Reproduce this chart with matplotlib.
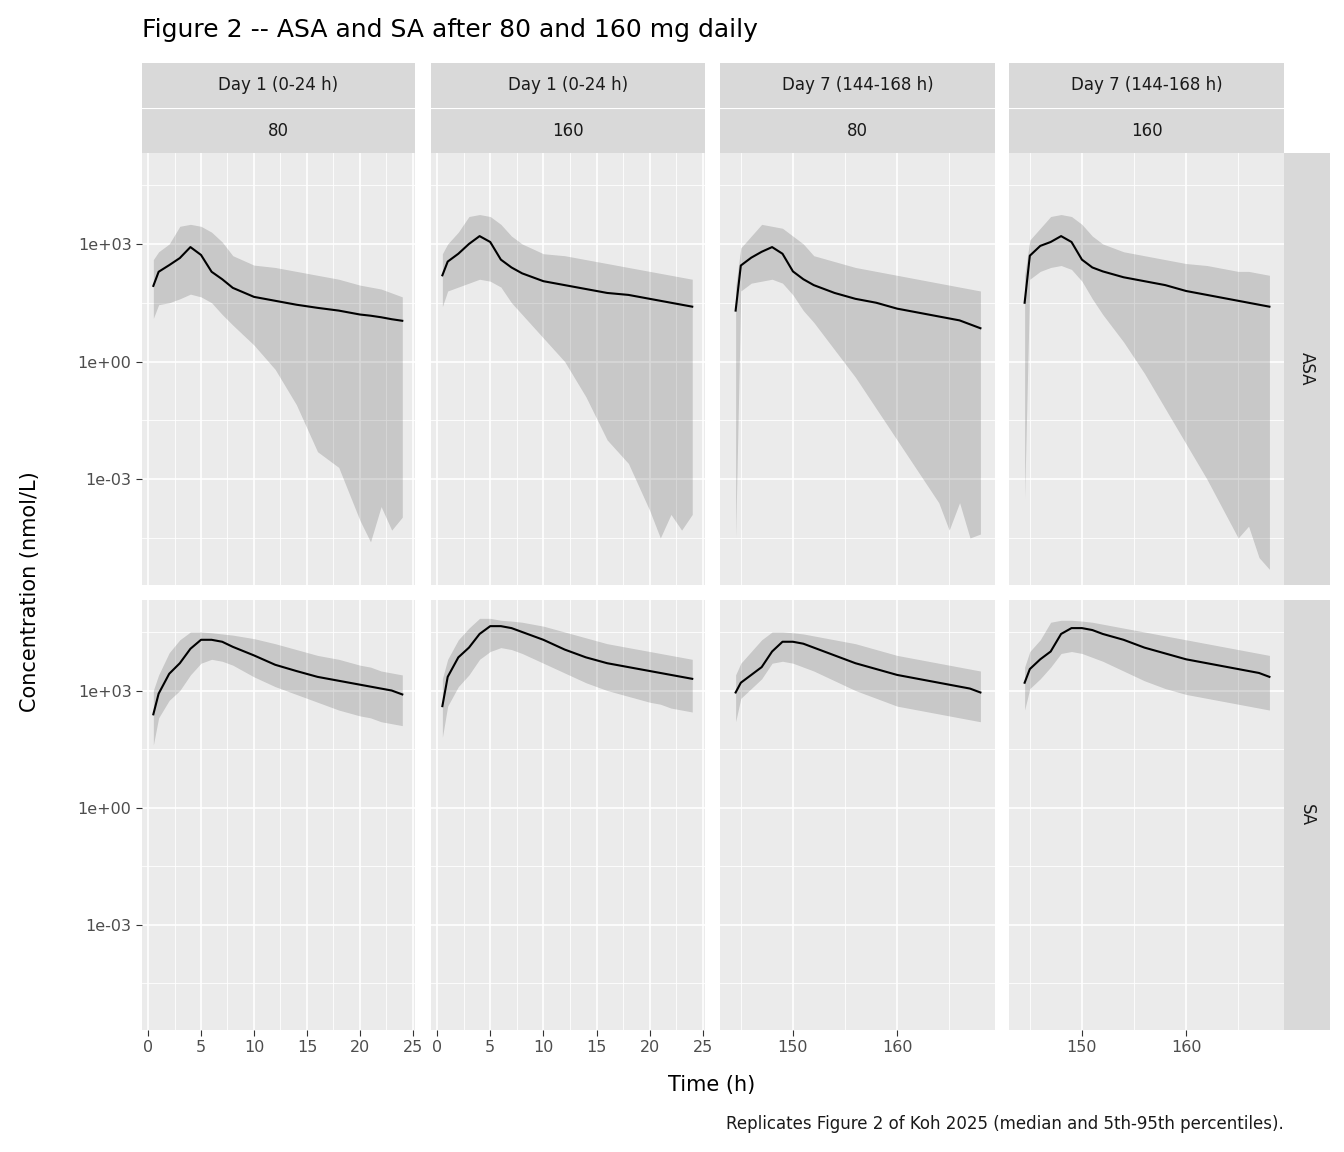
import numpy as np
import matplotlib
matplotlib.use("Agg")
import matplotlib.pyplot as plt
from matplotlib.ticker import FixedLocator, NullFormatter

# time grid (hours within the dosing day)
hours = [0.5, 1, 2, 3, 4, 5, 6, 7, 8, 10, 12, 14, 16, 18, 20, 21, 22, 23, 24]

days = ["Day 1 (0-24 h)", "Day 1 (0-24 h)", "Day 7 (144-168 h)", "Day 7 (144-168 h)"]
doses = ["80", "160", "80", "160"]
offsets = [0, 0, 144, 144]
analytes = ["ASA", "SA"]

# log10 concentration (nmol/L): median, 95th, 5th percentile
asa_med = [
    [1.93, 2.29, 2.46, 2.64, 2.92, 2.72, 2.29, 2.1, 1.88, 1.65, 1.55, 1.45, 1.37, 1.3, 1.2, 1.17, 1.13, 1.08, 1.04],
    [2.2, 2.55, 2.75, 3.0, 3.2, 3.05, 2.6, 2.4, 2.25, 2.05, 1.95, 1.85, 1.75, 1.7, 1.6, 1.55, 1.5, 1.45, 1.4],
    [1.3, 2.45, 2.65, 2.8, 2.92, 2.75, 2.3, 2.1, 1.95, 1.75, 1.6, 1.5, 1.35, 1.25, 1.15, 1.1, 1.05, 0.95, 0.85],
    [1.5, 2.7, 2.95, 3.05, 3.2, 3.05, 2.6, 2.4, 2.3, 2.15, 2.05, 1.95, 1.8, 1.7, 1.6, 1.55, 1.5, 1.45, 1.4],
]
asa_hi = [
    [2.6, 2.8, 3.0, 3.45, 3.5, 3.45, 3.3, 3.05, 2.7, 2.46, 2.4, 2.3, 2.2, 2.1, 1.95, 1.9, 1.85, 1.75, 1.65],
    [2.75, 3.0, 3.3, 3.7, 3.75, 3.7, 3.5, 3.2, 3.0, 2.75, 2.7, 2.6, 2.5, 2.4, 2.3, 2.25, 2.2, 2.15, 2.1],
    [1.9, 2.9, 3.2, 3.5, 3.45, 3.4, 3.2, 3.0, 2.7, 2.55, 2.4, 2.3, 2.2, 2.1, 2.0, 1.95, 1.9, 1.85, 1.8],
    [2.2, 3.1, 3.4, 3.7, 3.75, 3.7, 3.5, 3.2, 3.0, 2.8, 2.7, 2.6, 2.5, 2.45, 2.35, 2.3, 2.3, 2.25, 2.2],
]
asa_lo = [
    [1.1, 1.45, 1.5, 1.6, 1.72, 1.65, 1.5, 1.2, 0.93, 0.42, -0.2, -1.1, -2.3, -2.7, -4.05, -4.6, -3.7, -4.3, -3.97],
    [1.4, 1.8, 1.9, 2.0, 2.1, 2.05, 1.9, 1.5, 1.2, 0.6, 0.0, -0.9, -2.0, -2.6, -3.8, -4.5, -3.9, -4.3, -3.9],
    [-4.5, 1.8, 2.0, 2.05, 2.1, 2.0, 1.7, 1.3, 1.0, 0.3, -0.4, -1.2, -2.0, -2.8, -3.6, -4.3, -3.6, -4.5, -4.4],
    [-3.5, 2.1, 2.3, 2.4, 2.45, 2.35, 2.05, 1.6, 1.2, 0.5, -0.3, -1.2, -2.1, -3.0, -4.0, -4.5, -4.2, -5.0, -5.3],
]
sa_med = [
    [2.39, 2.92, 3.43, 3.7, 4.07, 4.3, 4.3, 4.25, 4.12, 3.9, 3.66, 3.5, 3.35, 3.25, 3.15, 3.1, 3.05, 3.0, 2.9],
    [2.6, 3.35, 3.85, 4.1, 4.45, 4.65, 4.65, 4.6, 4.5, 4.3, 4.05, 3.85, 3.7, 3.6, 3.5, 3.45, 3.4, 3.35, 3.3],
    [2.95, 3.2, 3.4, 3.6, 4.0, 4.25, 4.25, 4.2, 4.1, 3.9, 3.7, 3.55, 3.4, 3.3, 3.2, 3.15, 3.1, 3.05, 2.95],
    [3.2, 3.55, 3.8, 4.0, 4.45, 4.6, 4.6, 4.55, 4.45, 4.3, 4.1, 3.95, 3.8, 3.7, 3.6, 3.55, 3.5, 3.45, 3.35],
]
sa_hi = [
    [3.0, 3.4, 3.97, 4.3, 4.5, 4.5, 4.48, 4.45, 4.42, 4.33, 4.2, 4.05, 3.9, 3.8, 3.65, 3.6, 3.5, 3.45, 3.4],
    [3.3, 3.8, 4.3, 4.6, 4.85, 4.85, 4.8, 4.78, 4.75, 4.65, 4.5, 4.35, 4.2, 4.1, 4.0, 3.95, 3.9, 3.85, 3.8],
    [3.4, 3.7, 4.0, 4.3, 4.5, 4.5, 4.48, 4.45, 4.4, 4.3, 4.2, 4.05, 3.9, 3.8, 3.7, 3.65, 3.6, 3.55, 3.5],
    [3.6, 4.0, 4.3, 4.75, 4.8, 4.8, 4.78, 4.75, 4.7, 4.6, 4.5, 4.4, 4.3, 4.2, 4.1, 4.05, 4.0, 3.95, 3.9],
]
sa_lo = [
    [1.6, 2.3, 2.75, 3.0, 3.4, 3.7, 3.8, 3.75, 3.65, 3.35, 3.1, 2.9, 2.7, 2.5, 2.35, 2.3, 2.2, 2.15, 2.1],
    [1.8, 2.6, 3.1, 3.4, 3.8, 4.0, 4.1, 4.05, 3.95, 3.7, 3.45, 3.2, 3.0, 2.85, 2.7, 2.65, 2.55, 2.5, 2.45],
    [2.2, 2.8, 3.05, 3.3, 3.7, 3.75, 3.7, 3.6, 3.5, 3.25, 3.0, 2.8, 2.6, 2.5, 2.4, 2.35, 2.3, 2.25, 2.2],
    [2.5, 3.05, 3.3, 3.6, 3.95, 4.0, 3.95, 3.85, 3.75, 3.5, 3.25, 3.05, 2.9, 2.8, 2.7, 2.65, 2.6, 2.55, 2.5],
]

W, H = 1344, 1152
fig = plt.figure(figsize=(W / 100, H / 100), dpi=100)

def px(x0, y0, x1, y1):
    return [x0 / W, 1 - y1 / H, (x1 - x0) / W, (y1 - y0) / H]

cols = [(142, 415), (431, 705), (720, 995), (1009, 1284)]
rows = [(153, 585), (600, 1030)]
data = {"ASA": (asa_med, asa_hi, asa_lo), "SA": (sa_med, sa_hi, sa_lo)}
strip_bg = "#D9D9D9"
txt = "#1A1A1A"

for r, an in enumerate(analytes):
    med, hi, lo = data[an]
    for c in range(4):
        ax = fig.add_axes(px(cols[c][0], rows[r][0], cols[c][1], rows[r][1]))
        ax.set_facecolor("#EBEBEB")
        for s in ax.spines.values():
            s.set_visible(False)
        t = np.array(hours) + offsets[c]
        ax.fill_between(t, 10 ** np.array(lo[c]), 10 ** np.array(hi[c]), color="black", alpha=0.15, lw=0)
        ax.plot(t, 10 ** np.array(med[c]), color="black", lw=1.5)
        ax.set_yscale("log")
        ax.set_ylim(10 ** -5.7, 10 ** 5.32)
        ax.yaxis.set_major_locator(FixedLocator([1e-3, 1, 1e3]))
        ax.yaxis.set_minor_locator(FixedLocator([10 ** -4.5, 10 ** -1.5, 10 ** 1.5, 10 ** 4.5]))
        ax.yaxis.set_minor_formatter(NullFormatter())
        if c < 2:
            ax.set_xlim(-0.57, 25.2)
            ax.xaxis.set_major_locator(FixedLocator([0, 5, 10, 15, 20, 25]))
            ax.xaxis.set_minor_locator(FixedLocator([2.5, 7.5, 12.5, 17.5, 22.5]))
        else:
            ax.set_xlim(143.0, 169.4)
            ax.xaxis.set_major_locator(FixedLocator([150, 160]))
            ax.xaxis.set_minor_locator(FixedLocator([145, 155, 165]))
        ax.xaxis.set_minor_formatter(NullFormatter())
        ax.grid(which="major", color="white", lw=1.2)
        ax.grid(which="minor", color="white", lw=0.6)
        ax.set_axisbelow(True)
        ax.tick_params(which="minor", length=0)
        ax.tick_params(which="major", length=4, color="#333333", labelsize=11.5, labelcolor="#4D4D4D")
        if c == 0:
            ax.set_yticklabels(["1e-03", "1e+00", "1e+03"])
        else:
            ax.tick_params(axis="y", which="major", length=0, labelleft=False)
        if r == 0:
            ax.tick_params(axis="x", length=0, labelbottom=False)
        # right strip
        if c == 3:
            sax = fig.add_axes(px(1284, rows[r][0], 1330, rows[r][1]))
            sax.set_facecolor(strip_bg)
            sax.set_xticks([]); sax.set_yticks([])
            for s in sax.spines.values():
                s.set_visible(False)
            sax.text(0.5, 0.5, an, rotation=-90, ha="center", va="center", fontsize=12, color=txt, transform=sax.transAxes)

for c in range(4):
    for k, (y0, y1, lab) in enumerate([(63, 108, days[c]), (108, 153, doses[c])]):
        sax = fig.add_axes(px(cols[c][0], y0, cols[c][1], y1))
        sax.set_facecolor(strip_bg)
        sax.set_xticks([]); sax.set_yticks([])
        for s in sax.spines.values():
            s.set_visible(False)
        if k == 1:
            sax.axhline(1, color="white", lw=0.8)
        sax.text(0.5, 0.5, lab, ha="center", va="center", fontsize=12, color=txt, transform=sax.transAxes)

fig.text(142 / W, 1 - 30 / H, "Figure 2 -- ASA and SA after 80 and 160 mg daily", fontsize=18, va="center", ha="left")
fig.text(30 / W, 1 - 592 / H, "Concentration (nmol/L)", rotation=90, fontsize=15, va="center", ha="center")
fig.text(712 / W, 1 - 1085 / H, "Time (h)", fontsize=15, va="center", ha="center")
fig.text(1284 / W, 1 - 1124 / H, "Replicates Figure 2 of Koh 2025 (median and 5th-95th percentiles).",
         fontsize=12, va="center", ha="right", color=txt)

fig.savefig("out.png", dpi=100, facecolor="white")
